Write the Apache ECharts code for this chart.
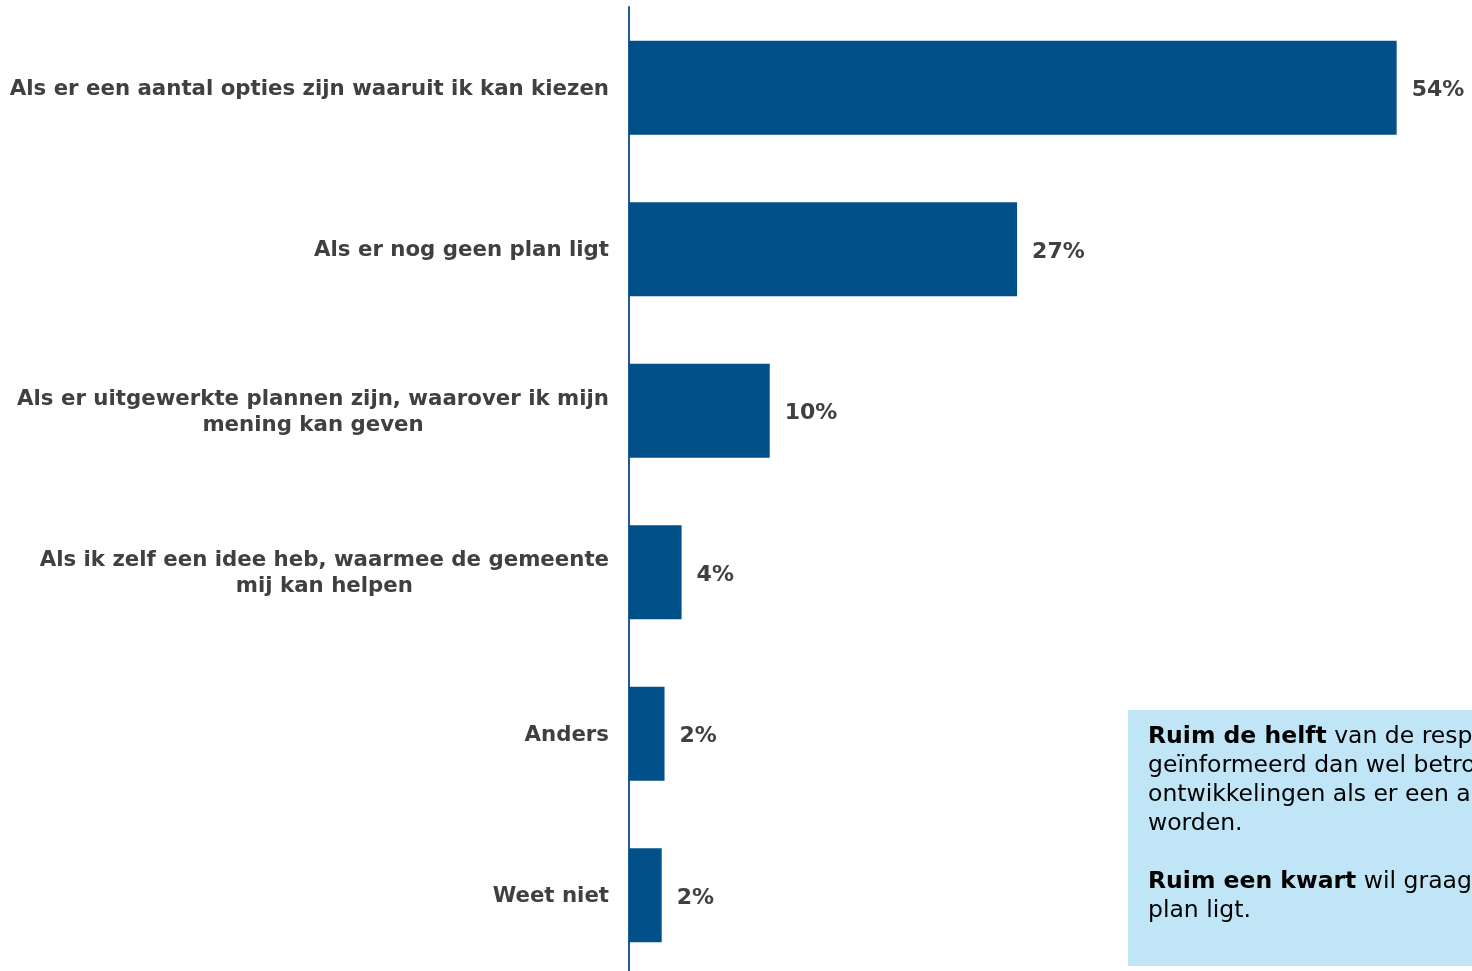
<!DOCTYPE html>
<html>
<head>
<meta charset="utf-8">
<script src="https://cdn.jsdelivr.net/npm/echarts@6/dist/echarts.min.js"></script>
<style>
html,body{margin:0;padding:0;background:#fff;}
#chart{width:1472px;height:971px;}
</style>
</head>
<body>
<div id="chart"></div>
<script>
const categories = [
  'Als er een aantal opties zijn waaruit ik kan kiezen',
  'Als er nog geen plan ligt',
  'Als er uitgewerkte plannen zijn, waarover ik mijn\nmening kan geven',
  'Als ik zelf een idee heb, waarmee de gemeente\nmij kan helpen',
  'Anders',
  'Weet niet'
];
const values = [54, 27.3, 9.9, 3.7, 2.5, 2.3];
const valueLabels = ['54%', '27%', '10%', '4%', '2%', '2%'];

const boxText = [
  '{b|Ruim de helft} van de respondenten wil graag',
  'geïnformeerd dan wel betrokken worden bij',
  'ontwikkelingen als er een aantal opties zijn waaruit',
  'worden.',
  '',
  '{b|Ruim een kwart} wil graag betrokken worden als er nog geen',
  'plan ligt.'
];

const chart = echarts.init(document.getElementById('chart'), null, {renderer: 'canvas'});
const FONT = '"DejaVu Sans", Verdana, sans-serif';
chart.setOption({
  animation: false,
  backgroundColor: '#ffffff',
  grid: {left: 629, top: 7, width: 843, height: 969, containLabel: false, outerBoundsMode: 'none'},
  xAxis: {
    type: 'value', min: 0, max: 59.3, show: false
  },
  yAxis: {
    type: 'category',
    inverse: true,
    data: categories,
    axisLine: {show: true, lineStyle: {color: '#1f5a96', width: 2}},
    axisTick: {show: false},
    splitLine: {show: false},
    axisLabel: {
      margin: 20,
      align: 'right',
      padding: [3, 0, 0, 0],
      formatter: function (v) {
        return v.split('\n').map(function (l) { return '{c|' + l + '}'; }).join('\n');
      },
      rich: {
        c: {align: 'center', fontFamily: FONT, fontWeight: 'bold', fontSize: 21.3, color: '#404040', lineHeight: 26}
      }
    }
  },
  series: [{
    type: 'bar',
    data: values,
    barWidth: 94,
    itemStyle: {color: '#01508a'},
    label: {
      show: true,
      position: 'right',
      distance: 15,
      offset: [0, 3],
      fontFamily: FONT,
      fontWeight: 'bold',
      fontSize: 22,
      color: '#404040',
      formatter: function (p) { return valueLabels[p.dataIndex]; }
    }
  }],
  graphic: [{
    type: 'group',
    left: 1128,
    top: 710,
    children: [{
      type: 'rect',
      shape: {x: 0, y: 0, width: 600, height: 256},
      style: {fill: '#bfe5f6'}
    }, {
      type: 'text',
      x: 20,
      y: 12,
      style: {
        text: boxText.join('\n'),
        fontFamily: FONT,
        fontSize: 23.5,
        lineHeight: 29,
        fill: '#000000',
        rich: {
          b: {fontFamily: FONT, fontSize: 23.5, fontWeight: 'bold', fill: '#000000', lineHeight: 29}
        }
      }
    }]
  }]
});
</script>
</body>
</html>
